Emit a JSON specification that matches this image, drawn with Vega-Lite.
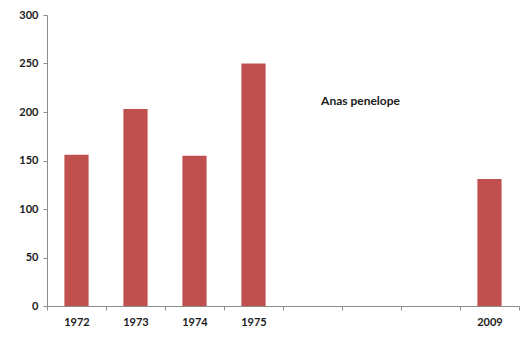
{
  "$schema": "https://vega.github.io/schema/vega-lite/v6.json",
  "width": 472,
  "height": 291,
  "autosize": {"type": "none"},
  "padding": {"left": 47, "top": 15, "right": 6, "bottom": 37},
  "background": "white",
  "config": {"view": {"stroke": null}, "font": "Lato"},
  "data": {"values": [
    {"year": "1972", "count": 156},
    {"year": "1973", "count": 203},
    {"year": "1974", "count": 155},
    {"year": "1975", "count": 250},
    {"year": "2009", "count": 131}
  ]},
  "layer": [
    {
      "mark": {"type": "bar", "color": "#C0504D", "width": {"band": 0.41}},
      "encoding": {
        "x": {
          "field": "year", "type": "nominal",
          "scale": {"domain": ["1972", "1973", "1974", "1975", "a", "b", "c", "2009"], "paddingInner": 0, "paddingOuter": 0},
          "axis": {
            "title": null, "labelAngle": 0, "tickBand": "extent", "tickSize": 4,
            "domainColor": "#8c8c8c", "tickColor": "#8c8c8c",
            "labelFontWeight": "bold", "labelFontSize": 11, "labelColor": "#1a1a1a", "labelPadding": 6,
            "labelExpr": "indexof(['a','b','c'], datum.value) >= 0 ? '' : datum.value"
          }
        },
        "y": {
          "field": "count", "type": "quantitative",
          "scale": {"domain": [0, 300]},
          "axis": {
            "title": null, "grid": false, "values": [0, 50, 100, 150, 200, 250, 300],
            "tickSize": 4, "domainColor": "#8c8c8c", "tickColor": "#8c8c8c",
            "labelFontWeight": "bold", "labelFontSize": 11, "labelColor": "#1a1a1a", "labelPadding": 5
          }
        }
      }
    },
    {
      "data": {"values": [{"label": "Anas penelope", "year": "b", "count": 211}]},
      "mark": {"type": "text", "fontWeight": "bold", "fontSize": 12, "color": "#1a1a1a", "dx": -11},
      "encoding": {
        "x": {"field": "year", "type": "nominal"},
        "y": {"field": "count", "type": "quantitative"},
        "text": {"field": "label"}
      }
    }
  ]
}
